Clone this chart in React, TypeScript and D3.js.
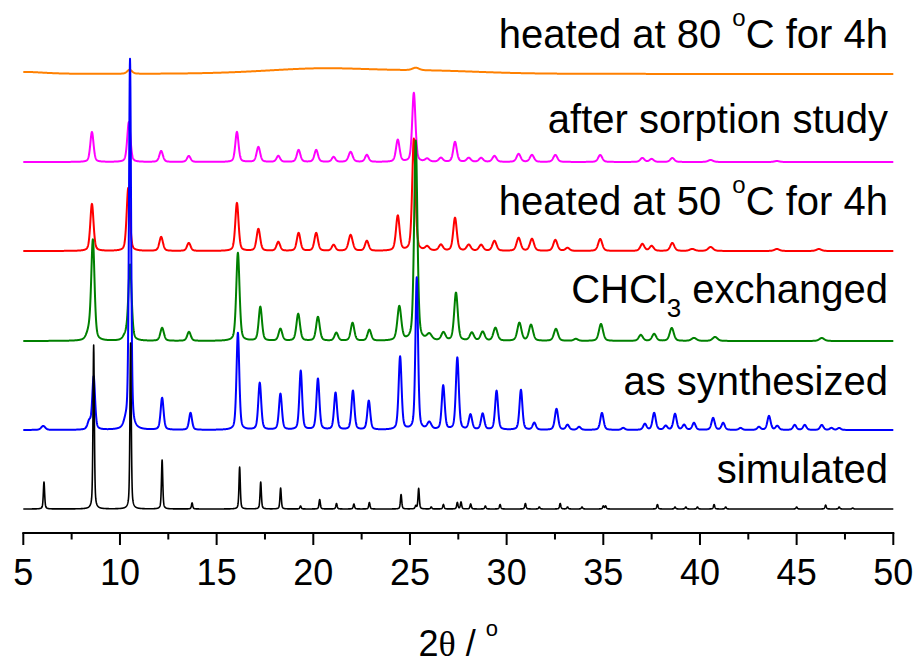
import React, { useEffect, useRef } from "react";
import * as d3 from "d3";

const WIDTH = 919;
const HEIGHT = 663;

// 2θ axis
const X_DOMAIN: [number, number] = [5, 50];
const MAJOR_TICKS = [5, 10, 15, 20, 25, 30, 35, 40, 45, 50];
const MINOR_TICKS = [7.5, 12.5, 17.5, 22.5, 27.5, 32.5, 37.5, 42.5, 47.5];

// Reflection lists: [2θ (deg), intensity (counts above the pattern baseline), FWHM (deg)]
type Peak = [number, number, number];

const SIMULATED: Peak[] = [
  [6.07, 270, 0.08], [8.64, 1640, 0.08], [10.55, 1660, 0.08], [12.18, 490, 0.08],
  [13.73, 60, 0.08], [16.19, 420, 0.08], [17.28, 270, 0.08], [18.31, 210, 0.08],
  [19.34, 30, 0.08], [20.33, 95, 0.08], [21.2, 55, 0.08], [22.1, 50, 0.08],
  [22.9, 65, 0.08], [24.54, 145, 0.08], [25.3, 30, 0.08], [25.45, 205, 0.08],
  [26.1, 20, 0.08], [26.73, 45, 0.08], [27.45, 65, 0.08], [27.64, 70, 0.08],
  [28.14, 50, 0.08], [28.9, 30, 0.08], [29.66, 45, 0.08], [30.97, 55, 0.08],
  [31.69, 20, 0.08], [32.77, 55, 0.08], [33.15, 20, 0.08], [33.9, 20, 0.08],
  [35.0, 30, 0.08], [35.12, 30, 0.08], [37.8, 45, 0.08], [38.71, 20, 0.08],
  [39.27, 20, 0.08], [39.87, 20, 0.08], [40.73, 45, 0.08], [41.33, 20, 0.08],
  [45.0, 20, 0.08], [46.5, 40, 0.08], [47.2, 20, 0.08], [47.9, 10, 0.08],
];

const AS_SYNTHESIZED: Peak[] = [
  [6.03, 40, 0.25], [8.41, 80, 0.2], [8.64, 530, 0.17], [10.3, 60, 0.25],
  [10.52, 3700, 0.13], [12.18, 320, 0.18], [13.65, 170, 0.18], [16.1, 970, 0.17],
  [17.23, 470, 0.18], [18.3, 360, 0.18], [19.35, 590, 0.17], [20.24, 510, 0.18],
  [21.15, 370, 0.18], [22.05, 390, 0.18], [22.87, 290, 0.18], [24.49, 730, 0.18],
  [25.35, 1520, 0.16], [26.0, 70, 0.25], [26.72, 440, 0.18], [27.45, 720, 0.18],
  [28.13, 150, 0.2], [28.76, 160, 0.2], [29.48, 390, 0.18], [30.74, 400, 0.18],
  [31.43, 70, 0.2], [32.58, 210, 0.2], [33.15, 50, 0.2], [33.75, 30, 0.2],
  [34.93, 170, 0.2], [36.03, 20, 0.2], [37.15, 60, 0.2], [37.63, 170, 0.2],
  [38.23, 40, 0.2], [38.71, 160, 0.2], [39.18, 50, 0.2], [39.69, 70, 0.2],
  [40.68, 120, 0.2], [41.2, 70, 0.2], [42.1, 20, 0.2], [43.05, 30, 0.2],
  [43.57, 140, 0.2], [44.0, 40, 0.2], [44.9, 50, 0.2], [45.42, 50, 0.2],
  [46.3, 50, 0.2], [46.8, 20, 0.2], [47.2, 20, 0.2],
];

const CHCL3_EXCHANGED: Peak[] = [
  [8.4, 80, 0.3], [8.6, 990, 0.2], [10.3, 50, 0.3], [10.52, 750, 0.2],
  [12.18, 130, 0.22], [13.57, 90, 0.22], [16.1, 880, 0.2], [17.26, 340, 0.2],
  [18.3, 120, 0.22], [19.22, 270, 0.22], [20.24, 240, 0.22], [21.19, 80, 0.22],
  [22.03, 180, 0.22], [22.9, 110, 0.22], [24.45, 340, 0.24], [25.3, 2000, 0.2],
  [26.0, 60, 0.3], [26.73, 80, 0.25], [27.38, 480, 0.22], [28.2, 80, 0.25],
  [28.76, 90, 0.25], [29.42, 130, 0.25], [30.66, 180, 0.25], [31.26, 160, 0.25],
  [32.55, 120, 0.25], [33.58, 20, 0.25], [34.88, 170, 0.25], [36.94, 60, 0.25],
  [37.63, 70, 0.25], [38.54, 130, 0.25], [39.69, 30, 0.3], [40.78, 40, 0.3],
  [46.3, 30, 0.3],
];

const HEATED_50: Peak[] = [
  [8.55, 470, 0.2], [10.43, 630, 0.2], [12.13, 140, 0.22], [13.56, 80, 0.22],
  [16.05, 480, 0.2], [17.16, 220, 0.22], [18.19, 90, 0.22], [19.24, 180, 0.22],
  [20.15, 180, 0.22], [21.05, 60, 0.22], [21.93, 160, 0.25], [22.77, 100, 0.22],
  [24.37, 350, 0.22], [25.2, 1120, 0.2], [25.89, 40, 0.25], [26.6, 60, 0.25],
  [27.33, 330, 0.22], [28.04, 60, 0.25], [28.68, 60, 0.25], [29.37, 100, 0.25],
  [30.62, 130, 0.25], [31.31, 120, 0.25], [32.52, 110, 0.25], [33.15, 30, 0.25],
  [34.84, 120, 0.25], [37.02, 70, 0.25], [37.5, 50, 0.25], [38.57, 80, 0.25],
  [39.6, 20, 0.3], [40.55, 40, 0.3], [43.98, 20, 0.3], [46.15, 20, 0.3],
];

const AFTER_SORPTION: Peak[] = [
  [8.55, 300, 0.2], [10.46, 400, 0.2], [12.13, 110, 0.22], [13.56, 60, 0.22],
  [16.05, 300, 0.2], [17.16, 150, 0.22], [18.19, 60, 0.22], [19.24, 120, 0.22],
  [20.15, 120, 0.22], [21.05, 50, 0.22], [21.93, 100, 0.25], [22.77, 70, 0.22],
  [24.37, 220, 0.22], [25.2, 690, 0.2], [25.89, 30, 0.25], [26.6, 40, 0.25],
  [27.33, 200, 0.22], [28.04, 40, 0.25], [28.68, 40, 0.25], [29.37, 60, 0.25],
  [30.62, 80, 0.25], [31.31, 70, 0.25], [32.52, 70, 0.25], [34.84, 70, 0.25],
  [37.02, 40, 0.25], [37.5, 30, 0.25], [38.57, 40, 0.25], [40.55, 20, 0.3],
  [43.98, 10, 0.3],
];

const HEATED_80: Peak[] = [
  [5.0, 20, 2.5], [10.5, 40, 0.3], [20.5, 55, 7], [25.3, 25, 0.4], [26.5, 25, 6],
];

// Stack order, top to bottom
const LABELS = [
  "heated at 80 °C for 4h",
  "after sorption study",
  "heated at 50 °C for 4h",
  "CHCl3 exchanged",
  "as synthesized",
  "simulated",
];
const PATTERNS: Peak[][] = [HEATED_80, AFTER_SORPTION, HEATED_50, CHCL3_EXCHANGED, AS_SYNTHESIZED, SIMULATED];
const OFFSETS = [4590, 3710, 2820, 1920, 1030, 240];
const COLORS = ["#ff8000", "#ff00ff", "#ff0000", "#008000", "#0000ff", "#000000"];
const LORENTZ_FRACTION = [0.3, 0.4, 0.4, 0.4, 0.4, 0.5];
const LINE_WIDTHS = [2, 2, 2, 2, 2, 1.6];
const Y_MAX = 5330;

const LN2x4 = 4 * Math.LN2;

function pseudoVoigt(dx: number, fwhm: number, eta: number): number {
  const r = (dx / fwhm) ** 2;
  return eta / (1 + 4 * r) + (1 - eta) * Math.exp(-LN2x4 * r);
}

function profile(peaks: Peak[], offset: number, eta: number): [number, number][] {
  const xs = d3.range(X_DOMAIN[0], X_DOMAIN[1] + 1e-9, 0.01);
  return xs.map((x) => {
    let y = offset;
    for (const [p, h, w] of peaks) y += h * pseudoVoigt(x - p, w, eta);
    return [x, y];
  });
}

const SANS = "'Liberation Sans', Arial, Helvetica, sans-serif";

export default function App() {
  const ref = useRef<SVGSVGElement | null>(null);

  useEffect(() => {
    const svg = d3.select(ref.current);
    svg.selectAll("*").remove();

    const axisY = 533;
    const x = d3.scaleLinear().domain(X_DOMAIN).range([23.3, 893.3]);
    const y = d3.scaleLinear().domain([0, Y_MAX]).range([axisY, 0]);

    const line = d3
      .line<[number, number]>()
      .x((d) => x(d[0]))
      .y((d) => y(d[1]));

    const g = svg.append("g");
    PATTERNS.forEach((peaks, i) => {
      g.append("path")
        .datum(profile(peaks, OFFSETS[i], LORENTZ_FRACTION[i]))
        .attr("fill", "none")
        .attr("stroke", COLORS[i])
        .attr("stroke-width", LINE_WIDTHS[i])
        .attr("stroke-linejoin", "round")
        .attr("d", line);
    });

    // Bottom axis
    const ax = svg.append("g").attr("transform", `translate(0,${axisY})`);
    ax.append("line")
      .attr("x1", x(X_DOMAIN[0]) - 1)
      .attr("x2", x(X_DOMAIN[1]) + 1)
      .attr("stroke", "#000")
      .attr("stroke-width", 2);
    ax.selectAll("line.major")
      .data(MAJOR_TICKS)
      .join("line")
      .attr("class", "major")
      .attr("x1", (d) => x(d))
      .attr("x2", (d) => x(d))
      .attr("y1", 0)
      .attr("y2", 12)
      .attr("stroke", "#000")
      .attr("stroke-width", 2);
    ax.selectAll("line.minor")
      .data(MINOR_TICKS)
      .join("line")
      .attr("class", "minor")
      .attr("x1", (d) => x(d))
      .attr("x2", (d) => x(d))
      .attr("y1", 0)
      .attr("y2", 6.5)
      .attr("stroke", "#000")
      .attr("stroke-width", 2);
    ax.selectAll("text.tick")
      .data(MAJOR_TICKS)
      .join("text")
      .attr("class", "tick")
      .attr("x", (d) => x(d))
      .attr("y", 52)
      .attr("text-anchor", "middle")
      .attr("font-family", SANS)
      .attr("font-size", 36)
      .attr("fill", "#000")
      .text((d) => String(d));

    // Axis title: 2θ / °
    const title = svg
      .append("text")
      .attr("x", (x(X_DOMAIN[0]) + x(X_DOMAIN[1])) / 2)
      .attr("y", 656)
      .attr("text-anchor", "middle")
      .attr("font-family", SANS)
      .attr("font-size", 36)
      .attr("fill", "#000");
    title.append("tspan").text("2");
    title.append("tspan").attr("font-family", "'Liberation Serif', 'DejaVu Serif', serif").text("θ");
    title.append("tspan").text(" / ");
    title.append("tspan").attr("font-size", 22).attr("dy", -20).text("o");

    // Pattern labels, right aligned
    const baselines = [48, 133, 215, 303, 395, 483];
    LABELS.forEach((label, i) => {
      const t = svg
        .append("text")
        .attr("x", 888)
        .attr("y", baselines[i])
        .attr("text-anchor", "end")
        .attr("font-family", SANS)
        .attr("font-size", 40)
        .attr("fill", "#000");
      const deg = label.indexOf("°");
      if (deg >= 0) {
        t.append("tspan").text(label.slice(0, deg));
        t.append("tspan").attr("font-size", 24).attr("dy", -22).text("o");
        t.append("tspan").attr("dy", 22).text(label.slice(deg + 1));
      } else if (label.startsWith("CHCl3")) {
        t.append("tspan").text("CHCl");
        t.append("tspan").attr("font-size", 26).attr("dy", 14).text("3");
        t.append("tspan").attr("dy", -14).text(label.slice(5));
      } else {
        t.text(label);
      }
    });
  }, []);

  return (
    <svg
      ref={ref}
      width={WIDTH}
      height={HEIGHT}
      viewBox={`0 0 ${WIDTH} ${HEIGHT}`}
      style={{ position: "absolute", left: 0, top: 0, display: "block", background: "#fff" }}
    />
  );
}
